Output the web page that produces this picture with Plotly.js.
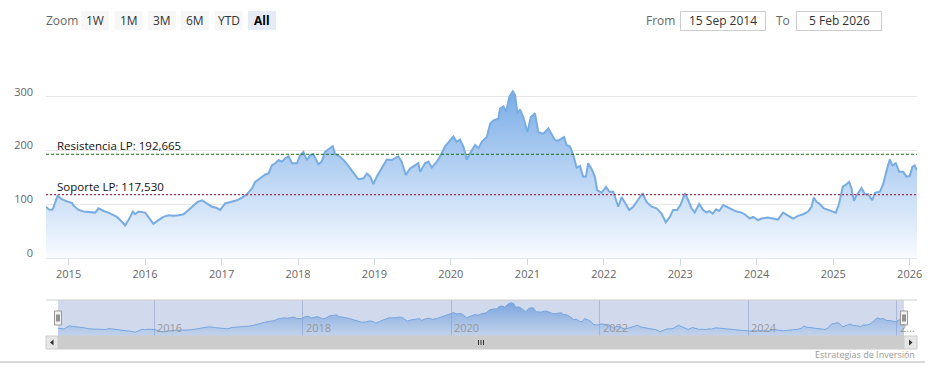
<!DOCTYPE html>
<html><head><meta charset="utf-8">
<script src="https://cdn.plot.ly/plotly-3.0.1.min.js"></script>
<style>html,body{margin:0;padding:0;background:#fff}#chart{width:932px;height:383px}</style>
</head><body><div id="chart"></div>
<script>
const dates = ['2014-09-15','2014-09-28','2014-10-13','2014-10-19','2014-11-09','2014-11-30','2014-12-24','2015-01-17','2015-01-25','2015-02-18','2015-03-13','2015-04-15','2015-05-08','2015-05-24','2015-06-17','2015-07-10','2015-07-27','2015-08-20','2015-09-13','2015-09-28','2015-10-14','2015-11-04','2015-11-15','2015-12-01','2016-01-02','2016-01-17','2016-02-10','2016-03-05','2016-03-29','2016-04-22','2016-05-16','2016-06-09','2016-07-03','2016-07-27','2016-08-20','2016-09-08','2016-09-29','2016-10-23','2016-11-16','2016-12-07','2016-12-25','2017-01-18','2017-02-19','2017-03-15','2017-04-08','2017-05-02','2017-05-26','2017-06-10','2017-07-04','2017-07-28','2017-08-13','2017-08-29','2017-09-14','2017-09-30','2017-10-16','2017-11-01','2017-11-17','2017-12-03','2017-12-27','2018-01-11','2018-01-27','2018-02-12','2018-02-28','2018-03-15','2018-04-08','2018-04-24','2018-05-10','2018-06-03','2018-06-16','2018-06-27','2018-07-21','2018-08-14','2018-09-07','2018-10-01','2018-10-17','2018-11-10','2018-11-26','2018-12-12','2018-12-27','2019-01-12','2019-02-05','2019-03-01','2019-03-25','2019-04-10','2019-04-25','2019-05-11','2019-05-31','2019-06-20','2019-07-14','2019-07-30','2019-08-07','2019-08-31','2019-09-16','2019-10-02','2019-10-26','2019-11-10','2019-12-04','2019-12-28','2020-01-13','2020-01-29','2020-02-14','2020-03-01','2020-03-17','2020-04-10','2020-04-26','2020-05-12','2020-05-28','2020-06-21','2020-07-07','2020-07-23','2020-08-15','2020-08-23','2020-09-08','2020-09-21','2020-10-07','2020-10-23','2020-11-03','2020-11-14','2020-11-27','2020-12-12','2021-01-01','2021-01-17','2021-02-06','2021-02-22','2021-03-18','2021-04-11','2021-04-27','2021-05-13','2021-05-28','2021-06-14','2021-06-25','2021-07-07','2021-07-23','2021-08-08','2021-08-24','2021-09-09','2021-09-24','2021-10-07','2021-10-18','2021-11-03','2021-11-19','2021-11-30','2021-12-21','2022-01-11','2022-01-27','2022-02-15','2022-03-03','2022-03-11','2022-03-27','2022-04-16','2022-05-02','2022-05-21','2022-06-07','2022-06-22','2022-07-05','2022-07-24','2022-08-17','2022-09-10','2022-10-04','2022-10-24','2022-11-12','2022-11-28','2022-12-17','2023-01-02','2023-01-23','2023-02-08','2023-02-24','2023-03-11','2023-04-01','2023-04-20','2023-05-07','2023-05-19','2023-06-05','2023-06-21','2023-07-06','2023-07-25','2023-08-10','2023-08-26','2023-09-11','2023-09-27','2023-10-21','2023-11-05','2023-11-29','2023-12-15','2024-01-08','2024-01-24','2024-02-24','2024-03-19','2024-04-12','2024-05-06','2024-05-30','2024-06-23','2024-07-17','2024-08-10','2024-09-03','2024-09-19','2024-09-30','2024-10-13','2024-10-29','2024-11-17','2024-12-08','2024-12-24','2025-01-13','2025-01-29','2025-02-15','2025-03-02','2025-03-18','2025-03-29','2025-04-10','2025-04-22','2025-05-16','2025-06-01','2025-06-17','2025-07-06','2025-07-19','2025-08-12','2025-08-28','2025-09-13','2025-09-28','2025-10-11','2025-10-27','2025-11-12','2025-12-01','2025-12-17','2026-01-01','2026-01-14','2026-01-25','2026-02-05'];
const values = [95,90,89,92,115,109,105,102,97,89,86,84,84,92,87,84,81,76,67,60,70,86,81,86,84,75,63,70,76,79,78,79,81,89,98,104,107,101,95,93,89,101,104,107,112,118,129,141,148,155,157,172,176,182,179,185,189,176,176,191,197,182,191,193,174,179,197,204,208,193,188,179,166,154,146,148,157,151,137,151,166,183,182,185,189,179,154,166,172,176,160,176,179,168,179,188,207,219,226,216,220,207,183,200,210,204,216,225,250,256,259,278,282,272,300,310,303,269,276,262,234,262,269,234,231,241,231,219,218,222,225,210,207,191,168,171,151,151,176,166,151,126,121,132,123,123,104,95,113,98,89,95,104,113,120,104,95,92,82,66,76,89,89,98,120,107,92,84,100,89,84,87,82,90,87,98,95,92,89,86,84,81,73,76,70,73,75,73,71,84,78,73,78,81,86,95,112,104,100,92,89,87,84,101,132,136,141,129,106,116,130,118,118,107,121,123,138,163,183,172,176,160,160,151,152,169,172,163];
const resistance = 192.665;
const support = 117.53;
const resistanceLabel = 'Resistencia LP: 192,665';
const supportLabel = 'Soporte LP: 117,530';
const yTickVals = [0, 100, 200, 300, 400];
const yTickText = ['0', '100', '200', '300', ''];
const xTickYears = ['2015','2016','2017','2018','2019','2020','2021','2022','2023','2024','2025','2026'];
const navTickYears = ['2016','2018','2020','2022','2024','2026'];
const navTickText = ['2016','2018','2020','2022','2024','2…'];
const zoomButtons = ['1W','1M','3M','6M','YTD','All'];
const fromText = '15 Sep 2014';
const toText = '5 Feb 2026';
const credits = 'Estrategias de Inversión';

const W = 932, H = 383;
const px = x => x / W;
const py = y => 1 - y / H;
const FONT = '"Open Sans", "DejaVu Sans", sans-serif';

const shapes = [];
const annotations = [];
function rect(x0, y0, x1, y1, fill, line, lw, layer) {
  shapes.push({type:'rect', xref:'paper', yref:'paper', x0:px(x0), x1:px(x1), y0:py(y0), y1:py(y1),
    fillcolor: fill, line:{color: line || 'rgba(0,0,0,0)', width: lw || 0}, layer: layer || 'above'});
}
function seg(x0, y0, x1, y1, color, w, dash) {
  shapes.push({type:'line', xref:'paper', yref:'paper', x0:px(x0), x1:px(x1), y0:py(y0), y1:py(y1),
    line:{color, width:w, dash: dash || 'solid'}, layer:'above'});
}
function label(text, x, y, opts) {
  annotations.push(Object.assign({text, xref:'paper', yref:'paper', x:px(x), y:py(y), showarrow:false,
    xanchor:'center', yanchor:'middle', font:{family:FONT, size:12, color:'#333'}}, opts || {}));
}

// support / resistance lines
shapes.push({type:'line', xref:'paper', yref:'y', x0:px(46), x1:px(917), y0:resistance, y1:resistance,
  line:{color:'#1a6b1a', width:1, dash:'3px,2px'}, layer:'above'});
shapes.push({type:'line', xref:'paper', yref:'y', x0:px(46), x1:px(917), y0:support, y1:support,
  line:{color:'#b0304f', width:1.2, dash:'2px,2px'}, layer:'above'});
annotations.push({text:resistanceLabel, xref:'paper', yref:'y', x:px(55), y:resistance, xanchor:'left', yanchor:'bottom',
  yshift:-1, showarrow:false, font:{family:FONT, size:11.5, color:'#111'}});
annotations.push({text:supportLabel, xref:'paper', yref:'y', x:px(55), y:support, xanchor:'left', yanchor:'bottom',
  yshift:-1, showarrow:false, font:{family:FONT, size:11.5, color:'#111'}});

// range selector
label('Zoom', 61.5, 20.5, {font:{family:FONT, size:12, color:'#666'}});
const btnX = [81, 114.5, 148, 181, 214.5, 248];
zoomButtons.forEach((b, i) => {
  const sel = b === 'All';
  rect(btnX[i], 11, btnX[i] + 28, 30, sel ? '#e6ebf5' : '#f7f7f7');
  label(b, btnX[i] + 14, 20.5, {font:{family:FONT, size:12, color: sel ? '#000' : '#333', weight: sel ? 'bold' : 'normal'}});
});
label('From', 660, 20.5, {font:{family:FONT, size:12, color:'#666'}});
rect(680.5, 11.5, 765.5, 30.5, '#fff', '#cccccc', 1);
label(fromText, 723, 20.5);
label('To', 782.5, 20.5, {font:{family:FONT, size:12, color:'#666'}});
rect(796.5, 11.5, 881.5, 30.5, '#fff', '#cccccc', 1);
label(toText, 839, 20.5);

// navigator
rect(58, 300, 904, 336, 'rgba(102,133,194,0.3)', null, 0, 'above');
seg(46, 300, 917, 300, '#cccccc', 1);
[58, 904].forEach(hx => {
  rect(hx - 3.5, 311, hx + 3.5, 325, '#f2f2f2', '#999999', 1);
  seg(hx - 1, 314.5, hx - 1, 321.5, '#333', 1);
  seg(hx + 1, 314.5, hx + 1, 321.5, '#333', 1);
});
navTickYears.forEach((y, i) => {
  annotations.push({text:navTickText[i], xref:'x2', yref:'paper', x:y + '-01-01', y:py(327.5), xanchor:'left', yanchor:'middle',
    xshift:1, showarrow:false, font:{family:FONT, size:11, color:'#999'}});
});
// scrollbar
rect(46, 336, 917, 349, '#f2f2f2', null, 0);
rect(58, 336, 904, 349, '#cccccc', '#cccccc', 1);
rect(46, 336, 58, 349, '#e6e6e6', '#cccccc', 1);
rect(904, 336, 917, 349, '#e6e6e6', '#cccccc', 1);
shapes.push({type:'path', xref:'paper', yref:'paper', path:`M ${px(50)} ${py(342.5)} L ${px(53.5)} ${py(339.5)} L ${px(53.5)} ${py(345.5)} Z`, fillcolor:'#333', line:{width:0}, layer:'above'});
shapes.push({type:'path', xref:'paper', yref:'paper', path:`M ${px(912.5)} ${py(342.5)} L ${px(909)} ${py(339.5)} L ${px(909)} ${py(345.5)} Z`, fillcolor:'#333', line:{width:0}, layer:'above'});
[478.5, 481, 483.5].forEach(gx => seg(gx, 340, gx, 345, '#333', 1));

// credits + bottom border
label(credits, 917, 354.5, {xanchor:'right', font:{family:FONT, size:9, color:'#999'}});
seg(0, 362, 925, 362, '#cccccc', 1.5);

const main = {
  x: dates, y: values, type:'scatter', mode:'lines', xaxis:'x', yaxis:'y',
  line:{color:'#78ace2', width:2},
  fill:'tozeroy',
  fillgradient:{type:'vertical', start:0, stop:310, colorscale:[[0,'rgb(248,251,255)'],[1,'rgb(122,173,232)']]},
  hoverinfo:'skip'
};
const nav = {
  x: dates, y: values, type:'scatter', mode:'lines', xaxis:'x2', yaxis:'y2',
  line:{color:'#7cb5ec', width:1},
  fill:'tozeroy',
  fillgradient:{type:'vertical', start:29, stop:310, colorscale:[[0,'rgba(124,181,236,0.15)'],[1,'rgba(110,165,230,0.85)']]},
  hoverinfo:'skip'
};

const layout = {
  width:W, height:H, margin:{l:0, r:0, t:0, b:0},
  paper_bgcolor:'#fff', plot_bgcolor:'rgba(0,0,0,0)', showlegend:false,
  font:{family:FONT, size:11, color:'#666'},
  xaxis:{domain:[px(46), px(917)], type:'date', range:[dates[0], dates[dates.length-1]],
    tickvals: xTickYears.map(y => y + '-01-01'), ticktext: xTickYears,
    showgrid:false, showline:true, linecolor:'#e0e6ef', linewidth:1.5,
    ticks:'outside', ticklen:6, tickcolor:'#ccd6eb', tickfont:{family:FONT, size:11, color:'#666'}, fixedrange:true},
  yaxis:{domain:[py(257.7), py(43)], range:[0, 400], tickvals:yTickVals, ticktext:yTickText,
    showgrid:true, gridcolor:'#e6e6e6', zeroline:false, showline:false, ticks:'',
    ticklabelshift:-5, ticklabelstandoff:12, tickfont:{family:FONT, size:11, color:'#666'}, fixedrange:true},
  xaxis2:{domain:[px(58), px(904)], anchor:'y2', type:'date', range:[dates[0], dates[dates.length-1]],
    tickvals: navTickYears.map(y => y + '-01-01'), showticklabels:false, showgrid:true, gridcolor:'#c8cfdd',
    zeroline:false, showline:false, ticks:'', fixedrange:true},
  yaxis2:{domain:[py(336), py(300)], anchor:'x2', range:[29, 333], showgrid:false, zeroline:false,
    showticklabels:false, ticks:'', showline:false, fixedrange:true},
  shapes, annotations
};
Plotly.newPlot('chart', [main, nav], layout, {staticPlot:true, displayModeBar:false});
</script></body></html>
